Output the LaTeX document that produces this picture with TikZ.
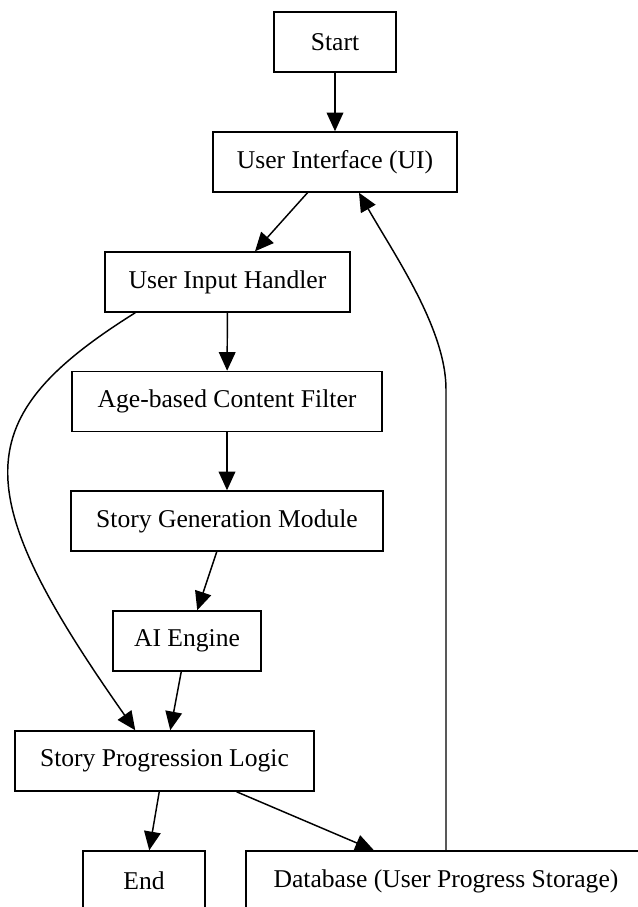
\documentclass[tikz,border=0pt]{standalone}
\usepackage{fontspec}
\setmainfont{Liberation Serif}
\usetikzlibrary{arrows.meta,calc}
\begin{document}
\begin{tikzpicture}[x=0.75pt,y=-0.75pt,
  box/.style={draw, line width=1.1pt, rectangle, inner sep=0pt, minimum height=45pt, font=\fontsize{19.2}{22}\selectfont},
  arr/.style={line width=1.1pt, -{Triangle[length=14pt,width=12.5pt]}}]
\useasboundingbox (0,0) rectangle (637,907);
\node[box, minimum width=91.5pt] (start) at (335,42) {Start};
\node[box, minimum width=183pt] (ui) at (335,162) {User Interface (UI)};
\node[box, minimum width=183.75pt] (uih) at (227.5,282) {User Input Handler};
\node[box, minimum width=232.5pt] (acf) at (227,401.5) {Age-based Content Filter};
\node[box, minimum width=234pt] (sgm) at (227,521) {Story Generation Module};
\node[box, minimum width=111pt] (ai) at (187,641) {AI Engine};
\node[box, minimum width=224.25pt] (spl) at (164.5,761) {Story Progression Logic};
\node[box, minimum width=91.5pt] (end) at (144,881) {End};
\node[box, minimum width=300pt] (db) at (446,881) {Database (User Progress Storage)};
\draw[arr] (start) -- (ui);
\draw[arr] (ui) -- (uih);
\draw[arr] (uih) -- (acf);
\draw[arr] (acf) -- (sgm);
\draw[arr] (sgm) -- (ai);
\draw[arr] (ai) -- (spl);
\draw[arr] (spl) -- (end);
\draw[arr] (spl) -- (db);
\draw[arr] ($(uih.south west)+(31,0)$) .. controls (-33,418) and (-33,491) .. ($(spl.north west)+(121,0)$);
\draw[arr] (db.north) -- ++(0,-461) .. controls ++(0,-60) and ($(ui.south)+(60,63)$) .. ($(ui.south)+(24,0)$);
\end{tikzpicture}
\end{document}
